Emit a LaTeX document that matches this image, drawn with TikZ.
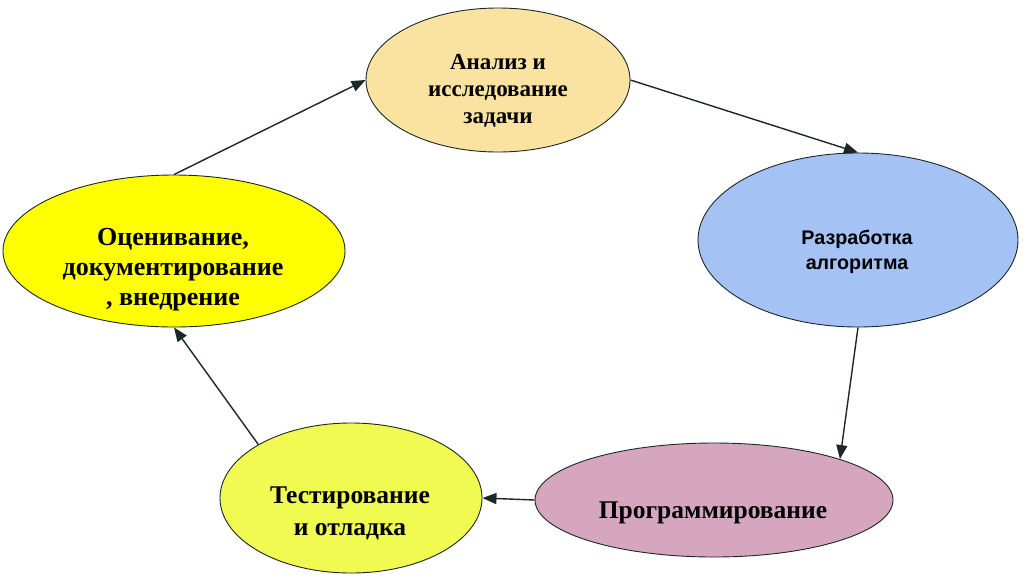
\documentclass[tikz,border=0pt]{standalone}
\usepackage{fontspec}
\setmainfont{Liberation Serif}
\newfontfamily\sansf{Liberation Sans}
\usetikzlibrary{shapes.geometric,arrows.meta}
\definecolor{cpeach}{RGB}{250,227,160}
\definecolor{cblue}{RGB}{164,194,244}
\definecolor{cpink}{RGB}{213,166,189}
\definecolor{clime}{RGB}{240,250,80}
\definecolor{cyel}{RGB}{255,255,0}
\definecolor{cline}{RGB}{28,40,40}
\tikzset{
  oval/.style={ellipse, draw=cline, line width=0.9pt, inner sep=0pt},
  lbl/.style={align=center, font=\fontsize{25.5}{31}\selectfont\bfseries, text=black},
  slbl/.style={align=center, font=\sansf\fontsize{19.7}{25}\selectfont\bfseries, text=black},
  conn/.style={draw=cline, line width=1.4pt, -{Triangle[length=14pt,width=11pt]}}
}
\begin{document}
\begin{tikzpicture}[x=1pt,y=-1pt]
\useasboundingbox[fill=white] (0,0) rectangle (1024,574);
\node[oval, fill=cpeach, minimum width=264pt, minimum height=144pt] (a) at (498,80) {};
\node[oval, fill=cblue, minimum width=320pt, minimum height=174pt] (b) at (858,240) {};
\node[oval, fill=cpink, minimum width=358pt, minimum height=114pt] (c) at (714,500) {};
\node[oval, fill=clime, minimum width=262pt, minimum height=150pt] (d) at (351,498) {};
\node[oval, fill=cyel, minimum width=342pt, minimum height=152pt] (e) at (174,251) {};
\node[lbl, font=\fontsize{23}{27}\selectfont\bfseries] (ta) at (498,91) {Анализ и\\исследование\\задачи};
\node[slbl] (tb) at (857,252) {Разработка\\алгоритма};
\node[lbl] (tc) at (713,513) {Программирование};
\node[lbl, font=\fontsize{25.5}{32}\selectfont\bfseries] (td) at (350,513) {Тестирование\\и отладка};
\node[lbl, font=\fontsize{26}{30}\selectfont\bfseries] (te) at (173,270) {Оценивание,\\документирование\\, внедрение};
\draw[conn] (e.90) -- (a.180);
\draw[conn] (a.0) -- (b.90);
\draw[conn] (b.270) -- (c.18.4);
\draw[conn] (c.180) -- (d.0);
\draw[conn] (d.150.3) -- (e.270);
\end{tikzpicture}
\end{document}
